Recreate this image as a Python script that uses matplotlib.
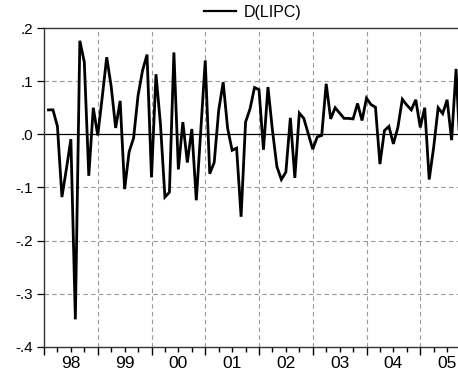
import matplotlib
matplotlib.use("Agg")
import matplotlib.pyplot as plt
import numpy as np

# D(LIPC), mensal, 1998M02 em diante (1998M01 = mes 0)
valores = [
    0.046, 0.046, 0.015, -0.118, -0.065, -0.009, -0.348, 0.176, 0.136, -0.078, 0.050,
    -0.002, 0.070, 0.145, 0.090, 0.012, 0.063, -0.103, -0.033, -0.007, 0.073, 0.120,
    0.150, -0.081, 0.113, 0.019, -0.118, -0.109, 0.154, -0.066, 0.023, -0.053, 0.010,
    -0.124, 0.007, 0.139, -0.074, -0.053, 0.045, 0.098, 0.011, -0.030, -0.026, -0.155,
    0.023, 0.048, 0.088, 0.084, -0.029, 0.089, 0.008, -0.061, -0.085, -0.071, 0.031,
    -0.082, 0.040, 0.030, 0.001, -0.028, -0.005, -0.002, 0.095, 0.029, 0.050, 0.040,
    0.030, 0.030, 0.029, 0.058, 0.026, 0.068, 0.056, 0.051, -0.056, 0.007, 0.015,
    -0.018, 0.013, 0.066, 0.055, 0.046, 0.065, 0.013, 0.050, -0.085, -0.024, 0.050,
    0.039, 0.065, -0.011, 0.123, -0.050,
]
meses = np.arange(1, len(valores) + 1)

anos = ["98", "99", "00", "01", "02", "03", "04", "05"]
y_ticks = [-0.4, -0.3, -0.2, -0.1, 0.0, 0.1, 0.2]
y_labels = ["-.4", "-.3", "-.2", "-.1", ".0", ".1", ".2"]

plt.rcParams["font.family"] = ["Liberation Sans", "DejaVu Sans"]

fig = plt.figure(figsize=(4.58, 3.73), dpi=100)
W, H = 458, 373
# o eixo passa da borda direita da figura (imagem original recortada)
ax = fig.add_axes([44 / W, 1 - 347 / H, (474 - 44) / W, (347 - 28) / H])

ax.plot(meses, valores, color="black", linewidth=2.0, label="D(LIPC)",
        solid_joinstyle="miter")
ax.axhline(0, color="black", linewidth=0.9, zorder=1)

ax.set_xlim(0, 96)
ax.set_ylim(-0.4, 0.2)

# grades tracejadas
for y in [-0.3, -0.2, -0.1, 0.1]:
    ax.axhline(y, color="#999999", linewidth=0.8, linestyle=(0, (4, 3)), zorder=0)
for m in range(12, 96, 12):
    ax.axvline(m, color="#999999", linewidth=0.8, linestyle=(0, (4, 3)), zorder=0)

ax.set_yticks(y_ticks)
ax.set_yticklabels(y_labels, fontsize=11)
ax.set_xticks(np.arange(0, 97, 12))
ax.set_xticklabels([])
ax.set_xticks(np.arange(0, 97, 3), minor=True)
ax.tick_params(axis="y", direction="out", length=5, width=0.9, pad=3)
ax.tick_params(axis="x", which="major", direction="out", length=6, width=1.0)
ax.tick_params(axis="x", which="minor", direction="out", length=3.5, width=1.0)

for i, a in enumerate(anos):
    ax.text(i * 12 + 6, -9 / 319, a, transform=ax.get_xaxis_transform(),
            ha="center", va="top", fontsize=12.5)

for s in ["left", "bottom", "top"]:
    ax.spines[s].set_linewidth(1.0)
    ax.spines[s].set_color("#333333")
ax.spines["right"].set_visible(False)

leg = ax.legend(loc="lower center", bbox_to_anchor=(0.485, 1.0), frameon=False,
                fontsize=11.5, handlelength=2.0, borderpad=0.0, handletextpad=0.5)
leg.get_lines()[0].set_linewidth(1.6)

fig.savefig("out.png", dpi=100)
